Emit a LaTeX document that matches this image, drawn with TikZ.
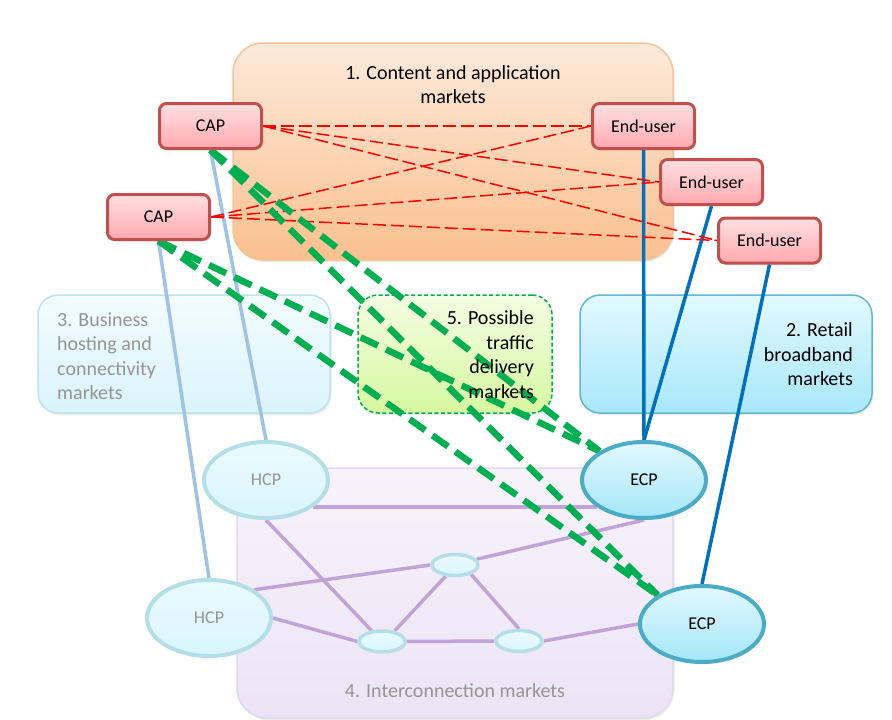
\documentclass[tikz,border=0pt]{standalone}
\usepackage{fontspec}
\setmainfont{Carlito}
\usetikzlibrary{shapes.geometric,shadows}
\pgfdeclarelayer{bg}
\pgfdeclarelayer{wires}
\pgfsetlayers{bg,wires,main}
\definecolor{oneTop}{HTML}{FDEADB}
\definecolor{oneBot}{HTML}{FAC08F}
\definecolor{oneLine}{HTML}{F6C49A}
\definecolor{threeTop}{HTML}{F3FCFF}
\definecolor{threeBot}{HTML}{DAF4FC}
\definecolor{threeLine}{HTML}{BDE3EC}
\definecolor{fiveTop}{HTML}{F4FDE3}
\definecolor{fiveBot}{HTML}{D6F8A0}
\definecolor{twoTop}{HTML}{E3F9FF}
\definecolor{twoBot}{HTML}{A8E7FA}
\definecolor{twoLine}{HTML}{62B8D2}
\definecolor{fourTop}{HTML}{F7F3FB}
\definecolor{fourBot}{HTML}{ECE4F6}
\definecolor{fourLine}{HTML}{E2D8EF}
\definecolor{capTop}{HTML}{FFE0E2}
\definecolor{capBot}{HTML}{FFA9AF}
\definecolor{capLine}{HTML}{C0504D}
\definecolor{hcpTop}{HTML}{EBFBFF}
\definecolor{hcpBot}{HTML}{D9F5FD}
\definecolor{hcpLine}{HTML}{B5DFE8}
\definecolor{ecpTop}{HTML}{E2F9FF}
\definecolor{ecpBot}{HTML}{A5E6F8}
\definecolor{ecpLine}{HTML}{4BACC6}
\definecolor{purpleLine}{HTML}{C2A3D8}
\definecolor{lightBlue}{HTML}{9DC3E6}
\definecolor{darkBlue}{HTML}{0070C0}
\definecolor{greenLine}{HTML}{00B050}
\definecolor{grayText}{HTML}{959595}
\newcommand\mynodefont{\fontsize{18}{21}\selectfont}
\newcommand\myboxfont{\fontsize{20}{24.5}\selectfont}
\tikzset{
  softshadow/.style={drop shadow={shadow xshift=1.5pt,shadow yshift=-2pt,opacity=0.15}},
  mbox/.style={rectangle, rounded corners=20pt, line width=1.5pt, inner sep=0pt, softshadow},
  capbox/.style={rectangle, rounded corners=7pt, draw=capLine, line width=3pt,
    top color=capTop, bottom color=capBot, minimum width=102pt, minimum height=45pt,
    inner sep=0pt, font=\mynodefont, softshadow},
  hcpnode/.style={ellipse, draw=hcpLine, line width=4pt, top color=hcpTop, bottom color=hcpBot,
    minimum width=124pt, minimum height=76pt, inner sep=0pt, font=\mynodefont, text=grayText},
  ecpnode/.style={ellipse, draw=ecpLine, line width=4pt, top color=ecpTop, bottom color=ecpBot,
    minimum width=124pt, minimum height=76pt, inner sep=0pt, font=\mynodefont, softshadow},
  smallnode/.style={ellipse, draw=hcpLine, line width=3.5pt, top color=hcpTop, bottom color=hcpBot,
    minimum width=46pt, minimum height=21pt, inner sep=0pt},
  boxtext/.style={font=\myboxfont, inner sep=0pt},
  pline/.style={draw=purpleLine, line width=3.5pt},
  lbline/.style={draw=lightBlue, line width=3.5pt},
  dbline/.style={draw=darkBlue, line width=3.5pt},
  rline/.style={draw=red, line width=1.5pt, dash pattern=on 13pt off 5pt},
  gline/.style={draw=greenLine, line width=6.5pt, dash pattern=on 19pt off 9pt}
}
\begin{document}
\begin{tikzpicture}[x=1pt,y=-1pt]
\useasboundingbox (0,0) rectangle (892,720);
\begin{pgfonlayer}{bg}
\fill[white] (0,0) rectangle (892,720);
\node[mbox, rounded corners=30pt, draw=oneLine, top color=oneTop, bottom color=oneBot,
  minimum width=440pt, minimum height=217pt] (b1) at (453,151.5) {};
\node[mbox, draw=threeLine, top color=threeTop, bottom color=threeBot,
  minimum width=292pt, minimum height=118pt] (b3) at (184,354) {};
\node[mbox, draw=greenLine, dash pattern=on 4pt off 2.5pt, top color=fiveTop, bottom color=fiveBot,
  minimum width=194pt, minimum height=118pt] (b5) at (455,354) {};
\node[mbox, draw=twoLine, top color=twoTop, bottom color=twoBot,
  minimum width=292pt, minimum height=118pt] (b2) at (726,354) {};
\node[mbox, rounded corners=30pt, draw=fourLine, top color=fourTop, bottom color=fourBot,
  minimum width=436pt, minimum height=250pt] (b4) at (455,593) {};
\end{pgfonlayer}

\node[boxtext, align=center] (t1) at (453,84.5) {1. Content and application\\markets};
\node[boxtext, align=left, anchor=west, text=grayText] (t3) at (57,356) {3. Business\\hosting and\\connectivity\\markets};
\node[boxtext, align=right, anchor=east] (t2) at (853,354.5) {2. Retail\\broadband\\markets};
\node[boxtext, text=grayText] (t4) at (455,691) {4. Interconnection markets};

\node[capbox] (cap1) at (210.5,126) {CAP};
\node[capbox] (cap2) at (158.5,217) {CAP};
\node[capbox] (eu1) at (643.5,126) {End-user};
\node[capbox] (eu2) at (711.5,182) {End-user};
\node[capbox] (eu3) at (769.5,240.5) {End-user};
\node[hcpnode] (hcp1) at (266,480) {HCP};
\node[hcpnode] (hcp2) at (209,618) {HCP};
\node[ecpnode] (ecp1) at (644,480) {ECP};
\node[ecpnode] (ecp2) at (702,624) {ECP};
\node[smallnode] (s1) at (455,565) {};
\node[smallnode] (s2) at (382,641.5) {};
\node[smallnode] (s3) at (519,641) {};

\begin{pgfonlayer}{wires}
\draw[pline] (hcp1.-30) -- (ecp1.210);
\draw[pline] (hcp1.south) -- (s2);
\draw[pline] (hcp2.32) -- (s1.west);
\draw[pline] (hcp2.east) -- (s2.west);
\draw[pline] (s2) -- (s3);
\draw[pline] (s2.40) -- (s1.230);
\draw[pline] (s1.-30) -- (s3.north);
\draw[pline] (s1.15) -- (ecp1.south);
\draw[pline] (s3.east) -- (ecp2.west);
\draw[lbline] (cap1.south) -- (hcp1.north);
\draw[lbline] (cap2.south) -- (hcp2.north);
\draw[dbline] (eu1.south) -- (ecp1.north);
\draw[dbline] (eu2.south) -- (ecp1.north);
\draw[dbline] (eu3.south) -- (ecp2.north);
\foreach \a in {cap1,cap2}{
  \foreach \b in {eu1,eu2,eu3}{
    \draw[rline] (\a.east) -- (\b.west);
  }
}
\draw[gline] (cap1.south) -- (ecp1.147);
\draw[gline] (cap1.south) -- (ecp2.147);
\draw[gline] (cap2.south) -- (ecp1.147);
\draw[gline] (cap2.south) -- (ecp2.147);
\end{pgfonlayer}

\node[boxtext, align=right, anchor=east] (t5) at (534,354.5) {5. Possible\\traffic\\delivery\\markets};
\end{tikzpicture}
\end{document}
